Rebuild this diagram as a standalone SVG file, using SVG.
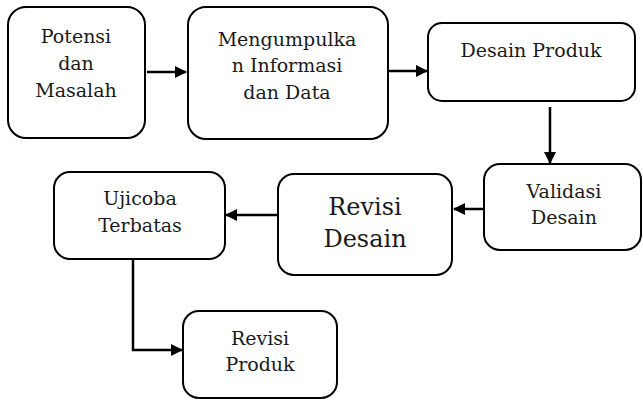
<svg xmlns="http://www.w3.org/2000/svg" width="643" height="403" viewBox="0 0 643 403">
<defs>
<style>
.box{fill:#fff;stroke:#000;stroke-width:2}
.t{font-family:"DejaVu Serif","Liberation Serif",serif;font-size:19px;fill:#1a1a1a;text-anchor:middle}
.big{font-size:24px}
.c{fill:none;stroke:#000;stroke-width:2.5}
</style>
<marker id="ah" viewBox="0 0 12 12" refX="11" refY="6" markerWidth="12" markerHeight="12" markerUnits="userSpaceOnUse" orient="auto">
<path d="M0,0 L12,6 L0,12 Z" fill="#000"/>
</marker>
</defs>
<rect width="643" height="403" fill="#fff"/>
<g id="n1"><rect class="box" x="8" y="7" width="137" height="131" rx="18"/>
<text class="t" x="76" y="43">Potensi</text><text class="t" x="76" y="70">dan</text><text class="t" x="76" y="97">Masalah</text></g>
<g id="n2"><rect class="box" x="188" y="7" width="200" height="132" rx="18"/>
<text class="t" x="287" y="46">Mengumpulka</text><text class="t" x="287" y="72">n Informasi</text><text class="t" x="287" y="99">dan Data</text></g>
<g id="n3"><rect class="box" x="428" y="23" width="207" height="78" rx="14"/>
<text class="t" x="531" y="57">Desain Produk</text></g>
<g id="n4"><rect class="box" x="484" y="164" width="157" height="86" rx="16"/>
<text class="t" x="564" y="198">Validasi</text><text class="t" x="564" y="224">Desain</text></g>
<g id="n5"><rect class="box" x="278" y="174" width="174" height="101" rx="16"/>
<text class="t big" x="365" y="215">Revisi</text><text class="t big" x="365" y="247">Desain</text></g>
<g id="n6"><rect class="box" x="54" y="172" width="171" height="87" rx="16"/>
<text class="t" x="140" y="205">Ujicoba</text><text class="t" x="140" y="232">Terbatas</text></g>
<g id="n7"><rect class="box" x="183" y="311" width="154" height="87" rx="16"/>
<text class="t" x="260" y="345">Revisi</text><text class="t" x="260" y="371">Produk</text></g>
<g id="connectors">
<path class="c" d="M147,72 H186" marker-end="url(#ah)"/>
<path class="c" d="M389,71 H427" marker-end="url(#ah)"/>
<path class="c" d="M550,107 V163" marker-end="url(#ah)"/>
<path class="c" d="M483,209 H454" marker-end="url(#ah)"/>
<path class="c" d="M277,215 H226" marker-end="url(#ah)"/>
<path class="c" d="M133,260 V350 H182" marker-end="url(#ah)"/>
</g>
</svg>
